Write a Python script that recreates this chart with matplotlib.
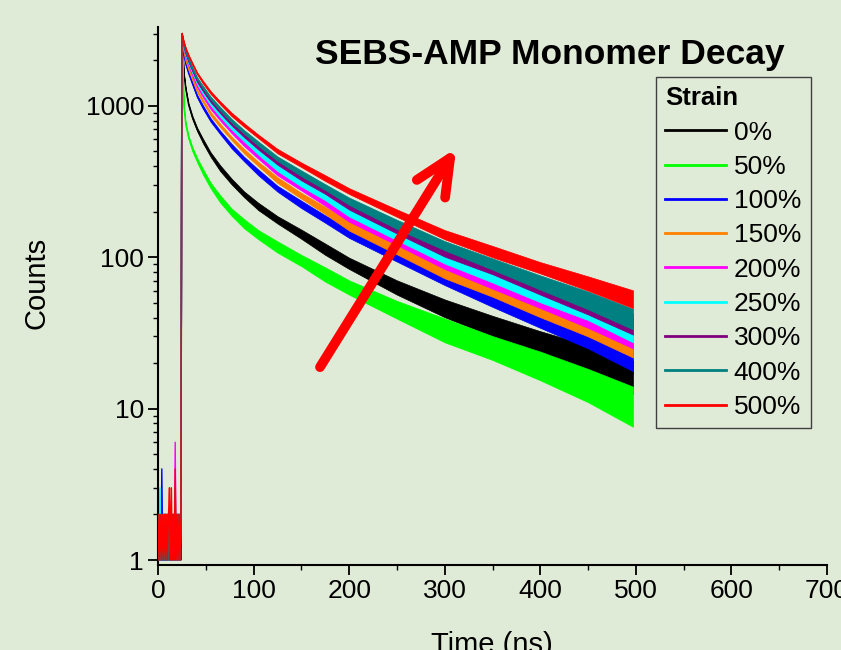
import matplotlib
matplotlib.use("Agg")
import matplotlib.pyplot as plt
from matplotlib.ticker import LogLocator, NullFormatter, MultipleLocator
import numpy as np

plt.rcParams['font.family'] = ['Liberation Sans', 'DejaVu Sans']

BG = "#e0ebd7"

                                                # Data
strain_labels = ["0%", "50%", "100%", "150%", "200%", "250%", "300%", "400%", "500%"]
line_colors = ["#000000", "#00ff00", "#0000ff", "#ff8000", "#ff00ff",
               "#00ffff", "#800080", "#008080", "#ff0000"]

# counts before the laser pulse, one digit per ns (0 .. 24 ns)
pre_t = list(range(25))
pre_000 = "2121212121212121212121212"
pre_050 = "1212121212121212121212121"
pre_100 = "2121412121212121212121212"
pre_150 = "1212121212121212121212121"
pre_200 = "2121212121212121216121212"
pre_250 = "2131212121212121212121212"
pre_300 = "1212121212121212121212121"
pre_400 = "2121212121212121213121212"
pre_500 = "1212121212123131214121212"

# decay: middle of each noisy trace
decay_t = [25, 27, 29, 32, 36, 41, 47, 55, 65, 77, 90, 105, 125, 150, 175, 200, 250, 300, 350, 400, 450, 497]

mid_000 = [3000, 1650, 1300, 1020, 840, 700, 590, 480, 390, 318, 262, 218, 178, 143, 114, 92, 64, 47, 36, 28, 22, 17]
mid_050 = [3000, 1000, 760, 620, 520, 440, 370, 300, 245, 200, 168, 142, 118, 96, 78, 64, 46, 34, 26, 20, 15, 11]
mid_100 = [3000, 2200, 1900, 1650, 1410, 1160, 985, 810, 670, 545, 448, 365, 285, 225, 180, 145, 103, 74, 55, 41, 31, 23]
mid_150 = [3000, 2330, 2030, 1760, 1510, 1260, 1080, 890, 745, 612, 505, 415, 325, 256, 205, 162, 115, 82, 62, 47, 36, 27]
mid_200 = [3000, 2440, 2150, 1880, 1620, 1360, 1170, 980, 825, 680, 565, 465, 365, 290, 233, 183, 130, 92, 70, 54, 41, 31]
mid_250 = [3000, 2480, 2200, 1940, 1680, 1420, 1230, 1035, 870, 720, 600, 495, 390, 308, 250, 198, 140, 100, 77, 59, 45, 34]
mid_300 = [3000, 2520, 2250, 1990, 1730, 1470, 1280, 1085, 920, 765, 640, 535, 425, 338, 275, 220, 155, 111, 85, 64, 49, 37]
mid_400 = [3000, 2560, 2300, 2040, 1780, 1520, 1330, 1130, 960, 800, 675, 565, 450, 360, 292, 236, 166, 120, 91, 69, 53, 40]
mid_500 = [3000, 2650, 2400, 2150, 1900, 1640, 1440, 1230, 1050, 880, 750, 630, 505, 410, 335, 275, 197, 142, 110, 86, 68, 54]

# width of the noise around a trace, by count level (upper / lower spread factor)
noise_level = [13, 18, 25, 35, 45, 60, 85, 120, 170, 250, 400, 600, 1000, 1500]
noise_up = [1.27, 1.22, 1.19, 1.16, 1.14, 1.12, 1.10, 1.08, 1.065, 1.05, 1.04, 1.03, 1.025, 1.02, 1.015]
noise_dn = [1.45, 1.36, 1.30, 1.24, 1.20, 1.17, 1.13, 1.10, 1.08, 1.065, 1.05, 1.04, 1.03, 1.025, 1.015]

pre_all = [pre_000, pre_050, pre_100, pre_150, pre_200, pre_250, pre_300, pre_400, pre_500]
mid_all = [mid_000, mid_050, mid_100, mid_150, mid_200, mid_250, mid_300, mid_400, mid_500]

                                                # Figure
fig = plt.figure(figsize=(8.41, 6.5), dpi=100, facecolor=BG)
ax = fig.add_axes([158 / 841, 1 - 565 / 650, 669 / 841, 538 / 650])
ax.set_facecolor("none")

for i, (lab, col) in enumerate(zip(strain_labels, line_colors)):
    y_pre = [int(c) for c in pre_all[i]]
    mid = np.array(mid_all[i], dtype=float)
    k = np.searchsorted(noise_level, mid, side="right")
    hi = mid * np.array(noise_up)[k]
    lo = mid / np.array(noise_dn)[k]
    z = 2 + 0.1 * i
    ax.fill_between(decay_t, lo, hi, color=col, lw=0.5, zorder=z)
    ax.plot(pre_t + decay_t, y_pre + mid_all[i], color=col, lw=1.0, label=lab, zorder=z)

ax.set_yscale("log")
ax.set_xlim(0, 700)
ax.set_ylim(0.927, 3320)
ax.set_yticks([1, 10, 100, 1000])
ax.set_yticklabels(["1", "10", "100", "1000"])
ax.yaxis.set_minor_locator(LogLocator(base=10, subs=np.arange(2, 10)))
ax.yaxis.set_minor_formatter(NullFormatter())
ax.xaxis.set_major_locator(MultipleLocator(100))
ax.xaxis.set_minor_locator(MultipleLocator(50))

for s in ["top", "right"]:
    ax.spines[s].set_visible(False)
for s in ["left", "bottom"]:
    ax.spines[s].set_linewidth(1.5)
ax.tick_params(which="major", direction="out", length=7, width=1.3, labelsize=19, pad=3)
ax.tick_params(which="minor", direction="out", length=3.5, width=1.0)

# arrow showing the trend with strain
ax.annotate("", xy=(312, 525), xytext=(169.5, 18.8),
            arrowprops=dict(arrowstyle="->,head_length=2.6,head_width=1.2",
                            color="#ff0000", lw=7, shrinkA=0, shrinkB=0,
                            capstyle="round", joinstyle="round"),
            zorder=10)

leg = ax.legend(title="Strain", loc="upper left",
                bbox_to_anchor=(656 / 841, 1 - 77 / 650), bbox_transform=fig.transFigure,
                borderaxespad=0, fontsize=19, title_fontproperties={"weight": "bold", "size": 18.5},
                alignment="left", frameon=True, fancybox=False, edgecolor="#404040",
                facecolor="none", framealpha=1, handlelength=2.3, handletextpad=0.3,
                labelspacing=0.39, borderpad=0.35)
leg.get_frame().set_linewidth(1.0)
for h in leg.get_lines():
    h.set_linewidth(2.0)

fig.text(550 / 841, 1 - 64 / 650, "SEBS-AMP Monomer Decay", ha="center", va="baseline",
         fontsize=25.5, fontweight="bold")
fig.text(36 / 841, 1 - 283 / 650, "Counts", rotation=90, ha="center", va="center", fontsize=21)
fig.text(492 / 841, 1 - 631 / 650, "Time (ns)", ha="center", va="top", fontsize=21)

fig.savefig("out.png", dpi=100, facecolor=BG)
